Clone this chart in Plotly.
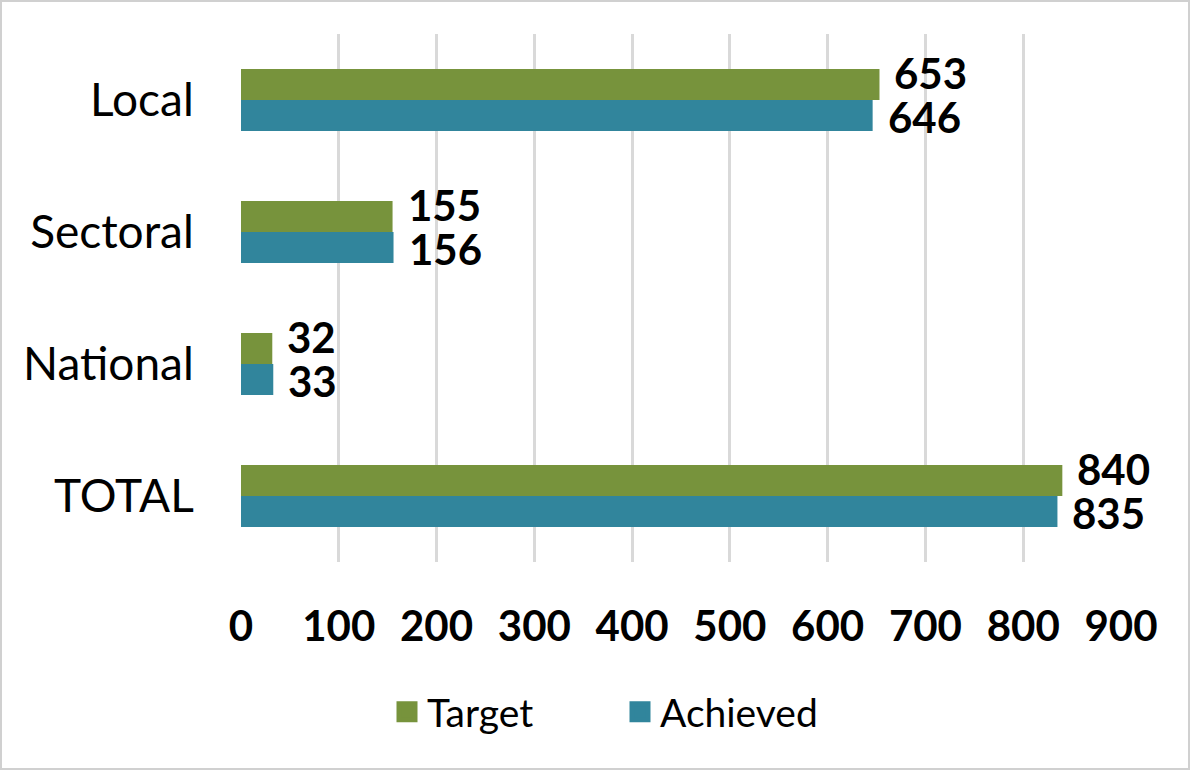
import plotly.graph_objects as go

categories = ["Local", "Sectoral", "National", "TOTAL"]
target = [653, 155, 32, 840]
achieved = [646, 156, 33, 835]

GREEN = "#77933C"
TEAL = "#31859C"
FONT = "Lato"

fig = go.Figure()
for name, vals, color in [("Target", target, GREEN), ("Achieved", achieved, TEAL)]:
    fig.add_trace(go.Bar(
        y=categories, x=vals, name=name, orientation="h",
        marker=dict(color=color, line=dict(width=0)),
        showlegend=False, hoverinfo="x+name",
    ))
    # bigger legend swatch than the default bar symbol
    fig.add_trace(go.Scatter(
        x=[None], y=[None], mode="markers", name=name,
        marker=dict(symbol="square", size=16, color=color, line=dict(color=color, width=5)),
    ))

# value labels: Excel puts them a bit apart from each other, so use annotations
for vals, shift in [(target, 27), (achieved, -17)]:
    for cat, v in zip(categories, vals):
        fig.add_annotation(
            x=v, y=cat, text=str(v), showarrow=False,
            xanchor="left", xshift=14, yshift=shift, borderpad=0,
            font=dict(family=FONT, size=42, color="black", weight="bold"),
        )

W, H = 1190, 770
L, R, T, B = 241, 69, 34, 208
pw, ph = W - L - R, H - T - B

fig.update_layout(
    width=W, height=H,
    barmode="group", bargap=0.53, bargroupgap=0,
    paper_bgcolor="white", plot_bgcolor="white",
    margin=dict(l=L, r=R, t=T, b=B, autoexpand=False),
    font=dict(family=FONT, color="black"),
    legend=dict(
        orientation="h", x=(620 - L) / pw, xanchor="center",
        y=(T + ph - 712) / ph, yanchor="middle",
        font=dict(size=39), itemwidth=30, entrywidth=188,
    ),
    shapes=[dict(
        type="rect", xref="paper", yref="paper",
        x0=-L / pw + 1 / pw, x1=(W - L) / pw - 1 / pw,
        y0=-B / ph + 1 / ph, y1=(H - B) / ph - 1 / ph,
        line=dict(color="#d0d0d0", width=2), layer="below",
    )],
)
fig.update_xaxes(
    range=[0, 900], dtick=100, showgrid=True, gridcolor="#d9d9d9", gridwidth=3,
    zeroline=False, showline=False,
    ticks="outside", ticklen=28, tickcolor="rgba(0,0,0,0)",
    tickfont=dict(family=FONT, size=42, color="black", weight="bold"),
)
fig.update_yaxes(
    autorange="reversed", showgrid=False, zeroline=False, showline=False,
    ticks="outside", ticklen=37, tickcolor="rgba(0,0,0,0)",
    tickfont=dict(family=FONT, size=46, color="black"),
)

fig.write_html("out.html", config={"displayModeBar": False},
               post_script="document.body.style.margin='0';")
